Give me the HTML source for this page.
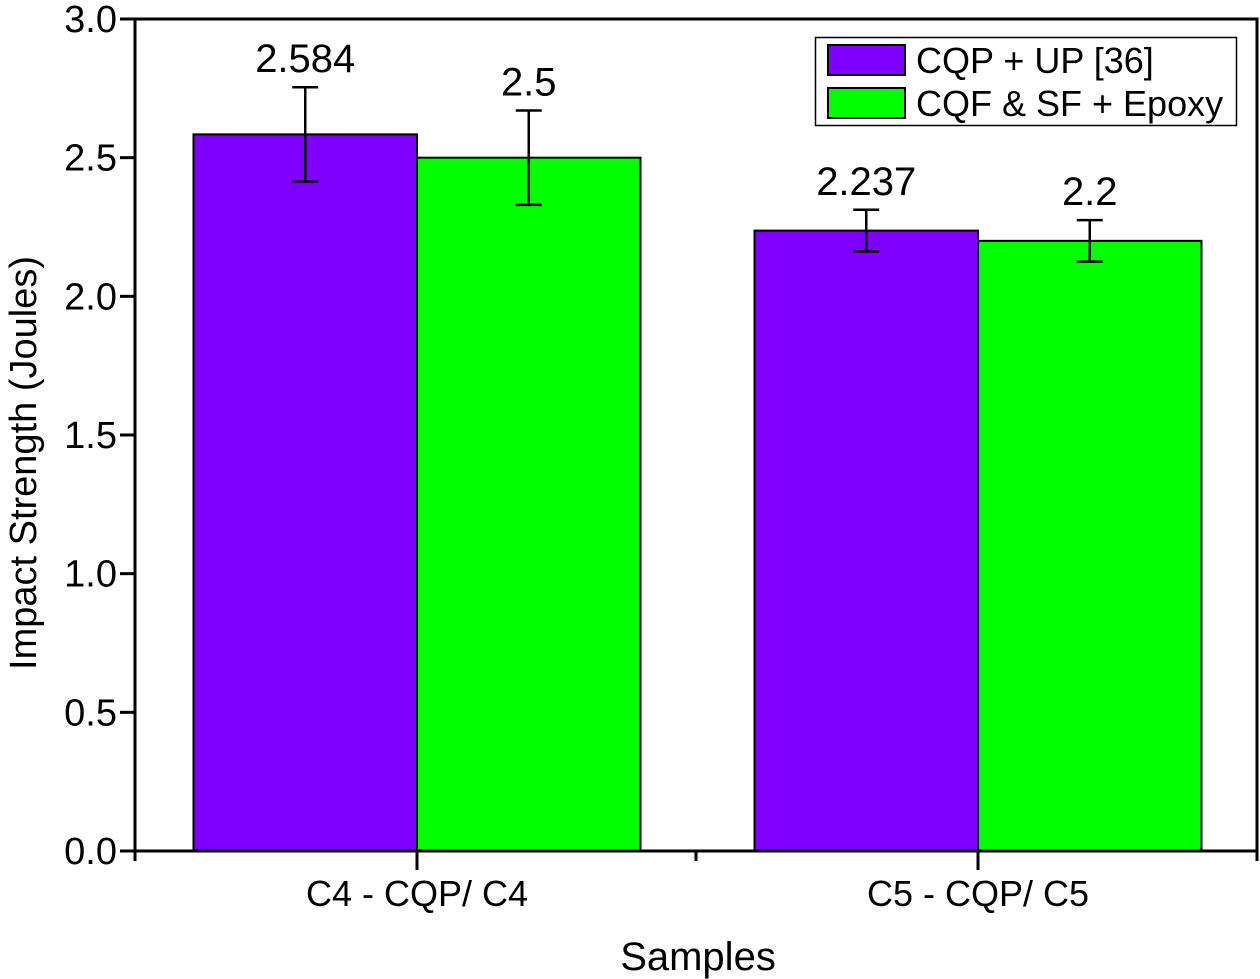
<!DOCTYPE html>
<html><head><meta charset="utf-8"><style>
body{margin:0;background:#fff}
svg{display:block;font-family:"Liberation Sans",Arial,sans-serif}
</style></head><body>
<svg id="chart" width="1260" height="979" viewBox="0 0 1260 979" xmlns="http://www.w3.org/2000/svg">
<g id="bars"></g>
<g id="axes"></g>
<text transform="translate(36,463) rotate(-90)" text-anchor="middle" font-size="38">Impact Strength (Joules)</text>
<text x="698" y="970" text-anchor="middle" font-size="40">Samples</text>
<g>
<rect x="815.5" y="37.5" width="421" height="88" fill="#fff" stroke="#000" stroke-width="1.5"/>
<rect x="828" y="45" width="77" height="30" fill="#7F00FF" stroke="#000" stroke-width="2"/>
<text x="916" y="73" font-size="36">CQP + UP [36]</text>
<rect x="828" y="88" width="77" height="30" fill="#00FF00" stroke="#000" stroke-width="2"/>
<text x="916" y="116" font-size="36">CQF &amp; SF + Epoxy</text>
</g>
</svg>
<script>
const categories = ["C4 - CQP/ C4", "C5 - CQP/ C5"];
const seriesNames = ["CQP + UP [36]", "CQF & SF + Epoxy"];
const cqpUp = [2.584, 2.237];
const cqfEpoxy = [2.5, 2.2];
const cqpUpErr = [0.17, 0.075];
const cqfEpoxyErr = [0.17, 0.075];
const valueLabels = [["2.584", "2.237"], ["2.5", "2.2"]];
const yTicks = [0.0, 0.5, 1.0, 1.5, 2.0, 2.5, 3.0];
const yTickLabels = ["0.0", "0.5", "1.0", "1.5", "2.0", "2.5", "3.0"];

const NS = "http://www.w3.org/2000/svg";
const L = 135, R = 1257, T = 19, B = 851;
const yMax = 3.0;
const y = v => B - (v / yMax) * (B - T);
const catW = (R - L) / categories.length;
const xc = i => L + catW * (i + 0.5) + 1.5;
const barW = 223.5;
const colors = ["#7F00FF", "#00FF00"];
const series = [cqpUp, cqfEpoxy];
const errs = [cqpUpErr, cqfEpoxyErr];
function mk(tag, attrs, parent) { const e = document.createElementNS(NS, tag); for (const k in attrs) e.setAttribute(k, attrs[k]); parent.appendChild(e); return e; }
const gb = document.getElementById("bars");
const ga = document.getElementById("axes");
categories.forEach((c, i) => {
  series.forEach((s, j) => {
    const x0 = xc(i) + (j - 1) * barW;
    const r = mk("rect", {x: x0, y: y(s[i]), width: barW, height: B - y(s[i]), fill: colors[j], stroke: "#000", "stroke-width": 2}, gb);
    
    
    const cx = x0 + barW / 2;
    const e = errs[j][i];
    const eg = mk("g", {stroke: "#000", "stroke-width": 2.5}, gb);
    
    
    mk("line", {x1: cx, x2: cx, y1: y(s[i] + e), y2: y(s[i] - e)}, eg);
    mk("line", {x1: cx - 13, x2: cx + 13, y1: y(s[i] + e), y2: y(s[i] + e)}, eg);
    mk("line", {x1: cx - 13, x2: cx + 13, y1: y(s[i] - e), y2: y(s[i] - e)}, eg);
    const t = mk("text", {x: cx, y: y(s[i] + e) - 15, "text-anchor": "middle", "font-size": 40}, gb);
    t.textContent = valueLabels[j][i];
    
    
  });
});
const frame = mk("rect", {x: L, y: T, width: R - L, height: B - T, fill: "none", stroke: "#000", "stroke-width": 3}, ga);


yTicks.forEach((v, k) => {
  mk("line", {x1: L - 15, x2: L, y1: y(v), y2: y(v), stroke: "#000", "stroke-width": 3}, ga);
  const t = mk("text", {x: L - 18, y: y(v) + 13, "text-anchor": "end", "font-size": 38}, ga);
  t.textContent = yTickLabels[k];
  
  
});
categories.forEach((c, i) => {
  mk("line", {x1: xc(i), x2: xc(i), y1: B, y2: B + 19, stroke: "#000", "stroke-width": 3}, ga);
  const t = mk("text", {x: xc(i), y: B + 55, "text-anchor": "middle", "font-size": 36}, ga);
  t.textContent = c;
  
  
});
for (let i = 0; i <= categories.length; i++) {
  mk("line", {x1: L + catW * i, x2: L + catW * i, y1: B, y2: B + 10, stroke: "#000", "stroke-width": 3}, ga);
}
</script>
</body></html>
